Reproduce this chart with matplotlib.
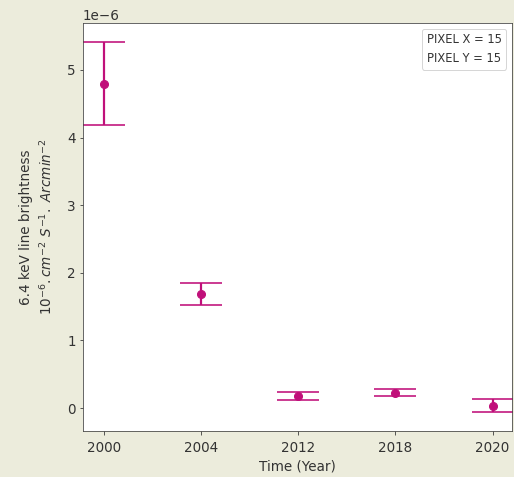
import numpy as np
import matplotlib
matplotlib.use("Agg")
import matplotlib.pyplot as plt

# brightness per epoch (units of 1e-6)
years = ["2000", "2004", "2012", "2018", "2020"]
brightness = [4.80, 1.69, 0.18, 0.225, 0.035]
err = [0.62, 0.16, 0.056, 0.052, 0.10]
pixel_x = 15
pixel_y = 15

bg = "#ececdc"
col = "#c0107a"
txt = "#333333"

plt.rcParams["font.size"] = 13.5
plt.rcParams["text.color"] = txt
plt.rcParams["axes.labelcolor"] = txt
plt.rcParams["xtick.color"] = txt
plt.rcParams["ytick.color"] = txt

fig = plt.figure(figsize=(514 / 72, 477 / 72), dpi=72, facecolor=bg)
ax = fig.add_axes([0.1615, 0.0964, 0.8345, 0.8554])

xpos = np.arange(len(years))
vals = np.array(brightness) * 1e-6
errs = np.array(err) * 1e-6
ax.errorbar(xpos, vals, yerr=errs, fmt="o", color=col, ecolor=col,
            markersize=8, elinewidth=2.2, capsize=21, capthick=1.6)

ax.set_xticks(xpos)
ax.set_xticklabels(years)
ax.tick_params(axis="x", pad=6)
ax.set_xlim(-0.216, 4.2)
ax.set_ylim(-0.34e-6, 5.695e-6)

ax.set_xlabel("Time (Year)", labelpad=5)
ax.set_ylabel("6.4 keV line brightness\n"
              r"$10^{-6}.cm^{-2}\ S^{-1}.\ Arcmin^{-2}$", labelpad=12,
              linespacing=1.4)

for s in ax.spines.values():
    s.set_color("#444444")

# legend with empty handles just for the pixel info
h1, = ax.plot([], [], " ", label=f"PIXEL X = {pixel_x}")
h2, = ax.plot([], [], " ", label=f"PIXEL Y = {pixel_y}")
ax.legend(handles=[h1, h2], loc="upper right", handlelength=0,
          handletextpad=0, fontsize=11.5, borderpad=0.4)

fig.savefig("out.png", dpi=72, facecolor=bg)
